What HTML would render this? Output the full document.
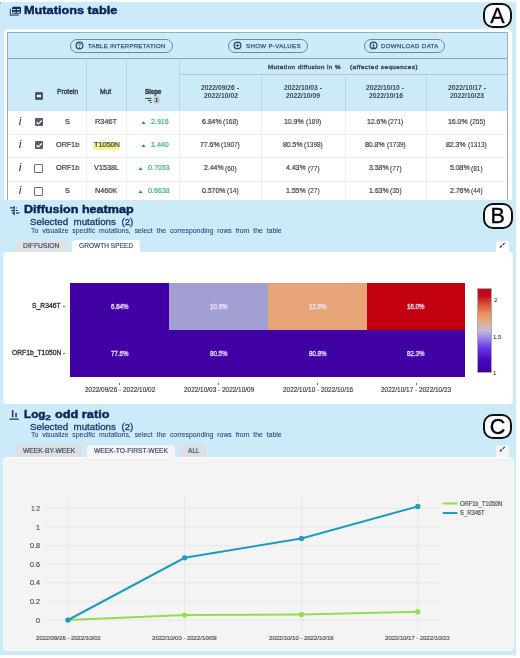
<!DOCTYPE html>
<html><head><meta charset="utf-8">
<style>
*{box-sizing:border-box;margin:0;padding:0}
html,body{width:520px;height:658px;overflow:hidden;background:#fff;font-family:"Liberation Sans",sans-serif;position:relative}
.a{position:absolute}
.x{position:absolute;white-space:nowrap;line-height:1;transform-origin:0 0;will-change:transform}
.lbl{position:absolute;border:2px solid #111;background:#fff;border-radius:10px;-webkit-text-stroke:0.35px #000;font-size:21.5px;color:#000;text-align:center;line-height:21.5px;padding-top:1.3px;font-family:"Liberation Sans",sans-serif;will-change:transform}
</style></head><body>
<div class="a" style="left:0px;top:2px;width:516px;height:198px;background:#cdeaf8;"></div>
<svg class="a" style="left:9px;top:6px" width="13" height="11" viewBox="0 0 13 11">
<rect x="3.1" y="0.8" width="8.9" height="7.0" rx="1.3" fill="#132b5b"/>
<rect x="3.9" y="3.0" width="2.7" height="1.1" fill="#d6ecf8"/><rect x="7.9" y="3.0" width="2.9" height="1.1" fill="#d6ecf8"/>
<rect x="3.9" y="5.8" width="2.7" height="1.1" fill="#d6ecf8"/><rect x="7.9" y="5.8" width="2.9" height="1.1" fill="#d6ecf8"/>
<path d="M1.4 2.7 V9.2 H9.8" fill="none" stroke="#36568a" stroke-width="1.2"/>
</svg>
<div class="x" style="left:24.44px;top:5.32px;font-size:11.2px;font-weight:bold;color:#0c2359;-webkit-text-stroke:0.45px #0c2359;transform:scaleX(1.1371);">Mutations table</div>
<div class="lbl" style="left:483px;top:2.8px;width:29px;height:25px">A</div>
<div class="a" style="left:4px;top:28.5px;width:507.5px;height:190px;background:#fff;border-radius:5px;"></div>
<div class="a" style="left:7.2px;top:31.7px;width:500.5px;height:180px;background:#cdeaf8;border:1px solid #98adbf;border-bottom:none;"></div>
<div class="a" style="left:8.2px;top:58px;width:499px;height:1px;background:#8ea5b8;"></div>
<div class="a" style="left:8.2px;top:110.5px;width:499px;height:100px;background:#fff;"></div>
<div class="a" style="left:179px;top:73.5px;width:328.5px;height:1px;background:#b3c9d8;"></div>
<div class="a" style="left:86px;top:59px;width:1px;height:51.5px;background:#bed4e2;"></div>
<div class="a" style="left:126px;top:59px;width:1px;height:51.5px;background:#bed4e2;"></div>
<div class="a" style="left:178.5px;top:59px;width:1px;height:51.5px;background:#bed4e2;"></div>
<div class="a" style="left:261px;top:74.5px;width:1px;height:36px;background:#bed4e2;"></div>
<div class="a" style="left:344.5px;top:74.5px;width:1px;height:36px;background:#bed4e2;"></div>
<div class="a" style="left:426px;top:74.5px;width:1px;height:36px;background:#bed4e2;"></div>
<div class="a" style="left:86px;top:110.5px;width:1px;height:90px;background:#eceef0;"></div>
<div class="a" style="left:126px;top:110.5px;width:1px;height:90px;background:#eceef0;"></div>
<div class="a" style="left:178.5px;top:110.5px;width:1px;height:90px;background:#eceef0;"></div>
<div class="a" style="left:261px;top:110.5px;width:1px;height:90px;background:#eceef0;"></div>
<div class="a" style="left:344.5px;top:110.5px;width:1px;height:90px;background:#eceef0;"></div>
<div class="a" style="left:426px;top:110.5px;width:1px;height:90px;background:#eceef0;"></div>
<div class="a" style="left:8.2px;top:133.7px;width:499px;height:1px;background:#eaecee;"></div>
<div class="a" style="left:8.2px;top:157.2px;width:499px;height:1px;background:#eaecee;"></div>
<div class="a" style="left:8.2px;top:180.6px;width:499px;height:1px;background:#eaecee;"></div>
<div class="a" style="left:70px;top:38.5px;width:102.5px;height:14px;border:1px solid #6f88a4;border-radius:7px;"></div>
<svg class="a" style="left:74.50px;top:40.8px" width="9" height="9" viewBox="0 0 9 9"><circle cx="4.5" cy="4.5" r="3.4" fill="none" stroke="#2f4669" stroke-width="1.2"/><path d="M3.4 3.7 Q3.4 2.6 4.5 2.6 Q5.6 2.6 5.6 3.5 Q5.6 4.2 4.5 4.6 V5.3" fill="none" stroke="#2f4669" stroke-width="0.85"/><circle cx="4.5" cy="6.4" r="0.5" fill="#2f4669"/></svg>
<div class="x" style="left:87.88px;top:42.74px;font-size:6.1px;color:#3a557e;-webkit-text-stroke:0.25px #3a557e;letter-spacing:0.236px;">TABLE INTERPRETATION</div>
<div class="a" style="left:228.3px;top:38.5px;width:79.30000000000001px;height:14px;border:1px solid #6f88a4;border-radius:7px;"></div>
<svg class="a" style="left:232.80px;top:40.8px" width="9" height="9" viewBox="0 0 9 9"><circle cx="4.5" cy="4.5" r="3.4" fill="none" stroke="#2f4669" stroke-width="1.2"/><path d="M2.6 4.5 H6.4 M4.5 2.6 V6.4" stroke="#2f4669" stroke-width="0.9"/></svg>
<div class="x" style="left:246.26px;top:42.74px;font-size:6.1px;color:#3a557e;-webkit-text-stroke:0.25px #3a557e;letter-spacing:0.348px;">SHOW P-VALUES</div>
<div class="a" style="left:364px;top:38.5px;width:81.39999999999998px;height:14px;border:1px solid #6f88a4;border-radius:7px;"></div>
<svg class="a" style="left:368.50px;top:40.8px" width="9" height="9" viewBox="0 0 9 9"><circle cx="4.5" cy="4.5" r="3.4" fill="none" stroke="#2f4669" stroke-width="1.2"/><path d="M4.5 2.5 V5.5 M3.3 4.4 L4.5 5.6 L5.7 4.4" fill="none" stroke="#2f4669" stroke-width="0.85"/><path d="M3.1 6.5 H5.9" stroke="#2f4669" stroke-width="0.7"/></svg>
<div class="x" style="left:381.41px;top:42.74px;font-size:6.1px;color:#3a557e;-webkit-text-stroke:0.25px #3a557e;letter-spacing:0.366px;">DOWNLOAD DATA</div>
<div class="x" style="left:268.40px;top:63.95px;font-size:6.2px;color:#3b4754;-webkit-text-stroke:0.40px #3b4754;letter-spacing:0.469px;">Mutation diffusion in %</div>
<div class="x" style="left:350.13px;top:63.95px;font-size:6.2px;color:#3b4754;-webkit-text-stroke:0.40px #3b4754;letter-spacing:0.516px;">(affected sequences)</div>
<div class="x" style="left:57.27px;top:88.70px;font-size:6.5px;color:#333d48;-webkit-text-stroke:0.35px #333d48;transform:scaleX(1.0249);">Protein</div>
<div class="x" style="left:100.47px;top:88.70px;font-size:6.5px;color:#333d48;-webkit-text-stroke:0.35px #333d48;transform:scaleX(1.0262);">Mut</div>
<div class="x" style="left:144.78px;top:88.58px;font-size:6.4px;font-weight:bold;color:#1f2328;-webkit-text-stroke:0.30px #1f2328;transform:scaleX(0.9399);">Slope</div>
<svg class="a" style="left:144px;top:97px" width="9" height="7" viewBox="0 0 9 7"><path d="M1.2 1.4 H7.5 M3.9 3.5 H7.5 M5.8 5.5 H7.5" stroke="#2e3338" stroke-width="0.95"/></svg>
<div class="a" style="left:153.1px;top:96.4px;width:7.4px;height:7.4px;border-radius:50%;background:#c4cdd5;"></div>
<div class="x" style="left:155.25px;top:97.59px;font-size:5.8px;font-weight:bold;color:#222;">1</div>
<div class="a" style="left:35px;top:91.6px;width:8.3px;height:8.6px;border-radius:1px;background:#505c68;"></div>
<div class="a" style="left:36.8px;top:95.4px;width:4.7px;height:1.2px;background:#fff;"></div>
<div class="x" style="left:201.05px;top:84.67px;font-size:6.3px;font-weight:bold;color:#3b4754;transform:scaleX(1.0720);">2022/09/26 -</div>
<div class="x" style="left:203.55px;top:93.07px;font-size:6.3px;font-weight:bold;color:#3b4754;transform:scaleX(1.0767);">2022/10/02</div>
<div class="x" style="left:283.80px;top:84.67px;font-size:6.3px;font-weight:bold;color:#3b4754;transform:scaleX(1.0720);">2022/10/03 -</div>
<div class="x" style="left:286.30px;top:93.07px;font-size:6.3px;font-weight:bold;color:#3b4754;transform:scaleX(1.0767);">2022/10/09</div>
<div class="x" style="left:366.30px;top:84.67px;font-size:6.3px;font-weight:bold;color:#3b4754;transform:scaleX(1.0720);">2022/10/10 -</div>
<div class="x" style="left:368.80px;top:93.07px;font-size:6.3px;font-weight:bold;color:#3b4754;transform:scaleX(1.0767);">2022/10/16</div>
<div class="x" style="left:447.55px;top:84.67px;font-size:6.3px;font-weight:bold;color:#3b4754;transform:scaleX(1.0720);">2022/10/17 -</div>
<div class="x" style="left:450.05px;top:93.07px;font-size:6.3px;font-weight:bold;color:#3b4754;transform:scaleX(1.0767);">2022/10/23</div>
<div class="x" style="left:18.90px;top:117.14px;font-size:10px;font-style:italic;font-family:"Liberation Serif", serif;color:#444;-webkit-text-stroke:0.15px #444;">i</div>
<div class="a" style="left:34.9px;top:117.8px;width:8.2px;height:8.2px;border-radius:1px;background:#565d64;"></div>
<svg class="a" style="left:34.9px;top:117.8px" width="8.2" height="8.2" viewBox="0 0 8.2 8.2"><path d="M1.6 4.2 L3.4 5.9 L6.7 2.5" fill="none" stroke="#fff" stroke-width="1.2"/></svg>
<div class="x" style="left:65.07px;top:118.14px;font-size:7.4px;color:#333;-webkit-text-stroke:0.20px #333;transform:scaleX(0.9800);">S</div>
<div class="x" style="left:95.20px;top:118.14px;font-size:7.4px;color:#333;-webkit-text-stroke:0.20px #333;transform:scaleX(0.9800);">R346T</div>
<svg class="a" style="left:140.7px;top:120.6px" width="5" height="3.5" viewBox="0 0 5 3.5"><path d="M0 3.5 L2.5 0.3 L5 3.5Z" fill="#1f9d55"/></svg>
<div class="x" style="left:150.75px;top:118.14px;font-size:7.4px;color:#33b068;-webkit-text-stroke:0.20px #33b068;transform:scaleX(0.9550);">2.916</div>
<div class="x" style="left:201.75px;top:118.14px;font-size:7.4px;color:#333;-webkit-text-stroke:0.20px #333;transform:scaleX(0.9300);">6.84%</div>
<div class="x" style="left:223.07px;top:119.20px;font-size:6.5px;color:#3c3c3c;-webkit-text-stroke:0.12px #3c3c3c;">(168)</div>
<div class="x" style="left:284.43px;top:118.14px;font-size:7.4px;color:#333;-webkit-text-stroke:0.20px #333;transform:scaleX(0.9300);">10.9%</div>
<div class="x" style="left:305.76px;top:119.20px;font-size:6.5px;color:#3c3c3c;-webkit-text-stroke:0.12px #3c3c3c;">(189)</div>
<div class="x" style="left:366.93px;top:118.14px;font-size:7.4px;color:#333;-webkit-text-stroke:0.20px #333;transform:scaleX(0.9300);">12.6%</div>
<div class="x" style="left:388.26px;top:119.20px;font-size:6.5px;color:#3c3c3c;-webkit-text-stroke:0.12px #3c3c3c;">(271)</div>
<div class="x" style="left:448.18px;top:118.14px;font-size:7.4px;color:#333;-webkit-text-stroke:0.20px #333;transform:scaleX(0.9300);">16.0%</div>
<div class="x" style="left:469.51px;top:119.20px;font-size:6.5px;color:#3c3c3c;-webkit-text-stroke:0.12px #3c3c3c;">(255)</div>
<div class="x" style="left:18.90px;top:140.24px;font-size:10px;font-style:italic;font-family:"Liberation Serif", serif;color:#444;-webkit-text-stroke:0.15px #444;">i</div>
<div class="a" style="left:34.9px;top:140.9px;width:8.2px;height:8.2px;border-radius:1px;background:#565d64;"></div>
<svg class="a" style="left:34.9px;top:140.9px" width="8.2" height="8.2" viewBox="0 0 8.2 8.2"><path d="M1.6 4.2 L3.4 5.9 L6.7 2.5" fill="none" stroke="#fff" stroke-width="1.2"/></svg>
<div class="x" style="left:55.80px;top:141.24px;font-size:7.4px;color:#333;-webkit-text-stroke:0.20px #333;transform:scaleX(0.9800);">ORF1b</div>
<div class="a" style="left:93px;top:141.5px;width:26.2px;height:8.8px;background:#f9f590;"></div>
<div class="x" style="left:93.59px;top:141.24px;font-size:7.4px;color:#333;-webkit-text-stroke:0.20px #333;transform:scaleX(0.9800);">T1050N</div>
<svg class="a" style="left:140.7px;top:143.7px" width="5" height="3.5" viewBox="0 0 5 3.5"><path d="M0 3.5 L2.5 0.3 L5 3.5Z" fill="#1f9d55"/></svg>
<div class="x" style="left:150.61px;top:141.24px;font-size:7.4px;color:#33b068;-webkit-text-stroke:0.20px #33b068;transform:scaleX(0.9550);">1.440</div>
<div class="x" style="left:199.94px;top:141.24px;font-size:7.4px;color:#333;-webkit-text-stroke:0.20px #333;transform:scaleX(0.9300);">77.6%</div>
<div class="x" style="left:221.27px;top:142.30px;font-size:6.5px;color:#3c3c3c;-webkit-text-stroke:0.12px #3c3c3c;">(1907)</div>
<div class="x" style="left:282.73px;top:141.24px;font-size:7.4px;color:#333;-webkit-text-stroke:0.20px #333;transform:scaleX(0.9300);">80.5%</div>
<div class="x" style="left:304.05px;top:142.30px;font-size:6.5px;color:#3c3c3c;-webkit-text-stroke:0.12px #3c3c3c;">(1398)</div>
<div class="x" style="left:365.23px;top:141.24px;font-size:7.4px;color:#333;-webkit-text-stroke:0.20px #333;transform:scaleX(0.9300);">80.8%</div>
<div class="x" style="left:386.55px;top:142.30px;font-size:6.5px;color:#3c3c3c;-webkit-text-stroke:0.12px #3c3c3c;">(1739)</div>
<div class="x" style="left:446.48px;top:141.24px;font-size:7.4px;color:#333;-webkit-text-stroke:0.20px #333;transform:scaleX(0.9300);">82.3%</div>
<div class="x" style="left:467.80px;top:142.30px;font-size:6.5px;color:#3c3c3c;-webkit-text-stroke:0.12px #3c3c3c;">(1313)</div>
<div class="x" style="left:18.90px;top:163.44px;font-size:10px;font-style:italic;font-family:"Liberation Serif", serif;color:#444;-webkit-text-stroke:0.15px #444;">i</div>
<div class="a" style="left:34.4px;top:164.2px;width:8.6px;height:8.6px;border-radius:1px;border:1px solid #6a6f74;background:#fff"></div>
<div class="x" style="left:55.80px;top:164.44px;font-size:7.4px;color:#333;-webkit-text-stroke:0.20px #333;transform:scaleX(0.9800);">ORF1b</div>
<div class="x" style="left:93.89px;top:164.44px;font-size:7.4px;color:#333;-webkit-text-stroke:0.20px #333;transform:scaleX(0.9800);">V1538L</div>
<svg class="a" style="left:138.3px;top:166.9px" width="5" height="3.5" viewBox="0 0 5 3.5"><path d="M0 3.5 L2.5 0.3 L5 3.5Z" fill="#1f9d55"/></svg>
<div class="x" style="left:148.49px;top:164.44px;font-size:7.4px;color:#33b068;-webkit-text-stroke:0.20px #33b068;transform:scaleX(0.9550);">0.7053</div>
<div class="x" style="left:203.56px;top:164.44px;font-size:7.4px;color:#333;-webkit-text-stroke:0.20px #333;transform:scaleX(0.9300);">2.44%</div>
<div class="x" style="left:224.88px;top:165.50px;font-size:6.5px;color:#3c3c3c;-webkit-text-stroke:0.12px #3c3c3c;">(60)</div>
<div class="x" style="left:286.41px;top:164.44px;font-size:7.4px;color:#333;-webkit-text-stroke:0.20px #333;transform:scaleX(0.9300);">4.43%</div>
<div class="x" style="left:307.74px;top:165.50px;font-size:6.5px;color:#3c3c3c;-webkit-text-stroke:0.12px #3c3c3c;">(77)</div>
<div class="x" style="left:368.88px;top:164.44px;font-size:7.4px;color:#333;-webkit-text-stroke:0.20px #333;transform:scaleX(0.9300);">3.58%</div>
<div class="x" style="left:390.20px;top:165.50px;font-size:6.5px;color:#3c3c3c;-webkit-text-stroke:0.12px #3c3c3c;">(77)</div>
<div class="x" style="left:450.09px;top:164.44px;font-size:7.4px;color:#333;-webkit-text-stroke:0.20px #333;transform:scaleX(0.9300);">5.08%</div>
<div class="x" style="left:471.42px;top:165.50px;font-size:6.5px;color:#3c3c3c;-webkit-text-stroke:0.12px #3c3c3c;">(81)</div>
<div class="x" style="left:18.90px;top:186.34px;font-size:10px;font-style:italic;font-family:"Liberation Serif", serif;color:#444;-webkit-text-stroke:0.15px #444;">i</div>
<div class="a" style="left:34.4px;top:187.1px;width:8.6px;height:8.6px;border-radius:1px;border:1px solid #6a6f74;background:#fff"></div>
<div class="x" style="left:65.07px;top:187.34px;font-size:7.4px;color:#333;-webkit-text-stroke:0.20px #333;transform:scaleX(0.9800);">S</div>
<div class="x" style="left:94.95px;top:187.34px;font-size:7.4px;color:#333;-webkit-text-stroke:0.20px #333;transform:scaleX(0.9800);">N460K</div>
<svg class="a" style="left:138.3px;top:189.8px" width="5" height="3.5" viewBox="0 0 5 3.5"><path d="M0 3.5 L2.5 0.3 L5 3.5Z" fill="#1f9d55"/></svg>
<div class="x" style="left:148.49px;top:187.34px;font-size:7.4px;color:#33b068;-webkit-text-stroke:0.20px #33b068;transform:scaleX(0.9550);">0.6638</div>
<div class="x" style="left:201.71px;top:187.34px;font-size:7.4px;color:#333;-webkit-text-stroke:0.20px #333;transform:scaleX(0.9300);">0.570%</div>
<div class="x" style="left:226.86px;top:188.40px;font-size:6.5px;color:#3c3c3c;-webkit-text-stroke:0.12px #3c3c3c;">(14)</div>
<div class="x" style="left:286.24px;top:187.34px;font-size:7.4px;color:#333;-webkit-text-stroke:0.20px #333;transform:scaleX(0.9300);">1.55%</div>
<div class="x" style="left:307.56px;top:188.40px;font-size:6.5px;color:#3c3c3c;-webkit-text-stroke:0.12px #3c3c3c;">(27)</div>
<div class="x" style="left:368.74px;top:187.34px;font-size:7.4px;color:#333;-webkit-text-stroke:0.20px #333;transform:scaleX(0.9300);">1.63%</div>
<div class="x" style="left:390.06px;top:188.40px;font-size:6.5px;color:#3c3c3c;-webkit-text-stroke:0.12px #3c3c3c;">(35)</div>
<div class="x" style="left:450.06px;top:187.34px;font-size:7.4px;color:#333;-webkit-text-stroke:0.20px #333;transform:scaleX(0.9300);">2.76%</div>
<div class="x" style="left:471.38px;top:188.40px;font-size:6.5px;color:#3c3c3c;-webkit-text-stroke:0.12px #3c3c3c;">(44)</div>
<div class="a" style="left:0px;top:2.6px;width:1.2px;height:1.6px;background:#7d9a9c;"></div>
<div class="a" style="left:0px;top:200px;width:516px;height:207px;background:#cdeaf8;"></div>
<svg class="a" style="left:9px;top:205px" width="12" height="11" viewBox="0 0 12 11">
<g stroke="#1f3a72" stroke-width="1.2" fill="none">
<line x1="5.2" y1="1" x2="5.2" y2="10.3"/>
<line x1="0.9" y1="2.8" x2="5.2" y2="2.8"/><line x1="2.2" y1="5.5" x2="5.2" y2="5.5"/><line x1="2.9" y1="8.0" x2="5.2" y2="8.0"/>
<line x1="7.1" y1="2.8" x2="7.8" y2="2.8"/><line x1="7.0" y1="5.5" x2="8.8" y2="5.5"/><line x1="7.0" y1="8.0" x2="10.5" y2="8.0"/>
</g></svg>
<div class="x" style="left:24.45px;top:204.30px;font-size:11.1px;font-weight:bold;color:#0c2359;-webkit-text-stroke:0.45px #0c2359;transform:scaleX(1.1327);">Diffusion heatmap</div>
<div class="lbl" style="left:482.5px;top:203px;width:29.5px;height:25.6px">B</div>
<div class="x" style="left:30.41px;top:217.14px;font-size:9.4px;color:#1e3a70;-webkit-text-stroke:0.30px #1e3a70;word-spacing:2.60px;transform:scaleX(1.0440);">Selected mutations (2)</div>
<div class="x" style="left:30.66px;top:227.61px;font-size:6.6px;color:#22407a;-webkit-text-stroke:0.05px #22407a;word-spacing:1.90px;transform:scaleX(1.0409);">To visualize specific mutations, select the corresponding rows from the table</div>
<div class="a" style="left:16.2px;top:240.4px;width:50.8px;height:14px;background:#e2e2e4;border-radius:3px 3px 0 0"></div>
<div class="x" style="left:23.26px;top:243.21px;font-size:6.6px;color:#34446a;-webkit-text-stroke:0.15px #34446a;transform:scaleX(1.0243);">DIFFUSION</div>
<div class="a" style="left:72px;top:239.8px;width:68.4px;height:15px;background:#fff;border-radius:3px 3px 0 0"></div>
<div class="x" style="left:78.87px;top:243.21px;font-size:6.6px;color:#34446a;-webkit-text-stroke:0.15px #34446a;transform:scaleX(0.9970);">GROWTH SPEED</div>
<div class="a" style="left:496px;top:240.5px;width:12.6px;height:14px;background:#fff;border-radius:3px 3px 0 0"></div>
<svg class="a" style="left:498px;top:241px" width="9" height="9" viewBox="0 0 9 9"><path d="M1.9 6.7 L3.1 5.5 M3.4 5.8 L3.4 4.9 L2.5 4.9" fill="none" stroke="#1d2f55" stroke-width="1.1"/><path d="M6.7 1.9 L5.5 3.1 M5.2 2.8 L5.2 3.5 L5.9 3.5" fill="none" stroke="#1d2f55" stroke-width="1.1"/></svg>
<div class="a" style="left:2.7px;top:252.4px;width:510.8px;height:152px;background:#fff;border-radius:4px;"></div>
<div class="a" style="left:70.2px;top:283.2px;width:99.10000000000001px;height:47.10000000000002px;background:#4000a3;"></div>
<div class="a" style="left:169.3px;top:283.2px;width:99.0px;height:47.10000000000002px;background:#a29fd3;"></div>
<div class="a" style="left:268.3px;top:283.2px;width:99.0px;height:47.10000000000002px;background:#e7a477;"></div>
<div class="a" style="left:367.3px;top:283.2px;width:97.30000000000001px;height:47.10000000000002px;background:#c3000f;"></div>
<div class="a" style="left:70.2px;top:330.3px;width:99.10000000000001px;height:46.5px;background:#4000a3;"></div>
<div class="a" style="left:169.3px;top:330.3px;width:99.0px;height:46.5px;background:#4000a3;"></div>
<div class="a" style="left:268.3px;top:330.3px;width:99.0px;height:46.5px;background:#4000a3;"></div>
<div class="a" style="left:367.3px;top:330.3px;width:97.30000000000001px;height:46.5px;background:#4000a3;"></div>
<div class="x" style="left:111.02px;top:303.72px;font-size:6.3px;color:#ebe4ff;-webkit-text-stroke:0.30px #ebe4ff;transform:scaleX(0.9700);">6.84%</div>
<div class="x" style="left:210.01px;top:303.72px;font-size:6.3px;color:#ebe4ff;-webkit-text-stroke:0.30px #ebe4ff;transform:scaleX(0.9700);">10.9%</div>
<div class="x" style="left:309.01px;top:303.72px;font-size:6.3px;color:#ebe4ff;-webkit-text-stroke:0.30px #ebe4ff;transform:scaleX(0.9700);">12.6%</div>
<div class="x" style="left:407.16px;top:303.72px;font-size:6.3px;color:#ebe4ff;-webkit-text-stroke:0.30px #ebe4ff;transform:scaleX(0.9700);">16.0%</div>
<div class="x" style="left:111.02px;top:350.52px;font-size:6.3px;color:#ebe4ff;-webkit-text-stroke:0.30px #ebe4ff;transform:scaleX(0.9700);">77.6%</div>
<div class="x" style="left:210.10px;top:350.52px;font-size:6.3px;color:#ebe4ff;-webkit-text-stroke:0.30px #ebe4ff;transform:scaleX(0.9700);">80.5%</div>
<div class="x" style="left:309.10px;top:350.52px;font-size:6.3px;color:#ebe4ff;-webkit-text-stroke:0.30px #ebe4ff;transform:scaleX(0.9700);">80.8%</div>
<div class="x" style="left:407.25px;top:350.52px;font-size:6.3px;color:#ebe4ff;-webkit-text-stroke:0.30px #ebe4ff;transform:scaleX(0.9700);">82.3%</div>
<div class="x" style="left:32.03px;top:303.21px;font-size:6.6px;color:#333;-webkit-text-stroke:0.30px #333;transform:scaleX(1.0262);">S_R346T</div>
<div class="x" style="left:12.23px;top:350.41px;font-size:6.6px;color:#333;-webkit-text-stroke:0.30px #333;transform:scaleX(1.0224);">ORF1b_T1050N</div>
<div class="a" style="left:62.8px;top:305.7px;width:2.2px;height:0.9px;background:#666;"></div>
<div class="a" style="left:63.1px;top:353.2px;width:2px;height:0.9px;background:#666;"></div>
<div class="a" style="left:119.35px;top:382.6px;width:0.8px;height:2px;background:#666;"></div>
<div class="x" style="left:84.58px;top:387.08px;font-size:6.4px;color:#3a3a3a;-webkit-text-stroke:0.15px #3a3a3a;transform:scaleX(1.0082);">2022/09/26 - 2022/10/02</div>
<div class="a" style="left:218.4px;top:382.6px;width:0.8px;height:2px;background:#666;"></div>
<div class="x" style="left:183.63px;top:387.08px;font-size:6.4px;color:#3a3a3a;-webkit-text-stroke:0.15px #3a3a3a;transform:scaleX(1.0082);">2022/10/03 - 2022/10/09</div>
<div class="a" style="left:317.40000000000003px;top:382.6px;width:0.8px;height:2px;background:#666;"></div>
<div class="x" style="left:282.63px;top:387.08px;font-size:6.4px;color:#3a3a3a;-webkit-text-stroke:0.15px #3a3a3a;transform:scaleX(1.0072);">2022/10/10 - 2022/10/16</div>
<div class="a" style="left:415.55000000000007px;top:382.6px;width:0.8px;height:2px;background:#666;"></div>
<div class="x" style="left:380.78px;top:387.08px;font-size:6.4px;color:#3a3a3a;-webkit-text-stroke:0.15px #3a3a3a;transform:scaleX(1.0072);">2022/10/17 - 2022/10/23</div>
<div class="a" style="left:477px;top:287.8px;width:15px;height:84.8px;border:0.5px solid #aaa;background:linear-gradient(to top, rgb(58,0,158) 0%, rgb(75,8,190) 15%, rgb(105,60,235) 30%, rgb(150,130,235) 40%, rgb(195,190,210) 50%, rgb(222,175,140) 60%, rgb(234,145,90) 70%, rgb(215,80,60) 82%, rgb(195,10,30) 92%, rgb(190,0,22) 100%)"></div>
<div class="x" style="left:493.50px;top:296.92px;font-size:6px;color:#444;-webkit-text-stroke:0.10px #444;">2</div>
<div class="x" style="left:493.38px;top:333.82px;font-size:6px;color:#444;-webkit-text-stroke:0.10px #444;">1.5</div>
<div class="x" style="left:493.38px;top:369.72px;font-size:6px;color:#444;-webkit-text-stroke:0.10px #444;">1</div>
<div class="a" style="left:0px;top:407px;width:516px;height:247.6px;background:#cdeaf8;"></div>
<svg class="a" style="left:9px;top:409px" width="11" height="12" viewBox="0 0 11 12">
<rect x="2.9" y="1" width="1.5" height="7.5" rx="0.7" fill="#1e3566"/>
<rect x="6.3" y="3.8" width="1.5" height="4.7" rx="0.7" fill="#1e3566"/>
<rect x="0.5" y="9.6" width="9.3" height="1.2" rx="0.5" fill="#1e3566"/>
</svg>
<div class="x" style="left:23.90px;top:408.50px;font-size:11.1px;font-weight:bold;color:#0c2359;-webkit-text-stroke:0.45px #0c2359;transform:scaleX(1.0527);">Log</div>
<div class="x" style="left:45.38px;top:413.85px;font-size:7.5px;font-weight:bold;color:#0c2359;-webkit-text-stroke:0.25px #0c2359;transform:scaleX(1.4422);">2</div>
<div class="x" style="left:55.32px;top:408.50px;font-size:11.1px;font-weight:bold;color:#0c2359;-webkit-text-stroke:0.45px #0c2359;transform:scaleX(1.1474);">odd ratio</div>
<div class="lbl" style="left:483.2px;top:413.8px;width:29px;height:25px">C</div>
<div class="x" style="left:30.41px;top:421.74px;font-size:9.4px;color:#1e3a70;-webkit-text-stroke:0.30px #1e3a70;word-spacing:2.60px;transform:scaleX(1.0440);">Selected mutations (2)</div>
<div class="x" style="left:30.66px;top:432.01px;font-size:6.6px;color:#22407a;-webkit-text-stroke:0.05px #22407a;word-spacing:1.90px;transform:scaleX(1.0409);">To visualize specific mutations, select the corresponding rows from the table</div>
<div class="a" style="left:15.9px;top:445.2px;width:65.6px;height:12px;background:#dedfe1;border-radius:3px 3px 0 0"></div>
<div class="x" style="left:22.80px;top:447.61px;font-size:6.6px;color:#34446a;-webkit-text-stroke:0.15px #34446a;transform:scaleX(1.0152);">WEEK-BY-WEEK</div>
<div class="a" style="left:86.5px;top:444.5px;width:88.3px;height:13px;background:#f4f4f4;border-radius:3px 3px 0 0"></div>
<div class="x" style="left:94.30px;top:447.61px;font-size:6.6px;color:#34446a;-webkit-text-stroke:0.15px #34446a;transform:scaleX(1.0114);">WEEK-TO-FIRST-WEEK</div>
<div class="a" style="left:180px;top:445.2px;width:26px;height:12px;background:#dedfe1;border-radius:3px 3px 0 0"></div>
<div class="x" style="left:187.80px;top:447.61px;font-size:6.6px;color:#34446a;-webkit-text-stroke:0.15px #34446a;transform:scaleX(0.9680);">ALL</div>
<div class="a" style="left:496px;top:444.5px;width:12.6px;height:13px;background:#f4f4f4;border-radius:3px 3px 0 0"></div>
<svg class="a" style="left:497.8px;top:445.3px" width="9" height="9" viewBox="0 0 9 9"><path d="M1.9 6.7 L3.1 5.5 M3.4 5.8 L3.4 4.9 L2.5 4.9" fill="none" stroke="#1d2f55" stroke-width="1.1"/><path d="M6.7 1.9 L5.5 3.1 M5.2 2.8 L5.2 3.5 L5.9 3.5" fill="none" stroke="#1d2f55" stroke-width="1.1"/></svg>
<div class="a" style="left:2.9px;top:456.6px;width:511.4px;height:194.4px;background:#f4f4f4;border-radius:4px;border:1px solid #fbfbfb;"></div>
<svg class="a" style="left:0;top:0" width="520" height="658" viewBox="0 0 520 658"><line x1="44.5" y1="620.0" x2="439.7" y2="620.0" stroke="#e4e4e4" stroke-width="0.8"/><line x1="44.5" y1="601.4" x2="439.7" y2="601.4" stroke="#e4e4e4" stroke-width="0.8"/><line x1="44.5" y1="582.8" x2="439.7" y2="582.8" stroke="#e4e4e4" stroke-width="0.8"/><line x1="44.5" y1="564.2" x2="439.7" y2="564.2" stroke="#e4e4e4" stroke-width="0.8"/><line x1="44.5" y1="545.6" x2="439.7" y2="545.6" stroke="#e4e4e4" stroke-width="0.8"/><line x1="44.5" y1="527.0" x2="439.7" y2="527.0" stroke="#e4e4e4" stroke-width="0.8"/><line x1="44.5" y1="508.4" x2="439.7" y2="508.4" stroke="#e4e4e4" stroke-width="0.8"/><line x1="68" y1="496" x2="68" y2="629" stroke="#e4e4e4" stroke-width="0.8"/><line x1="184.6" y1="496" x2="184.6" y2="629" stroke="#e4e4e4" stroke-width="0.8"/><line x1="301.5" y1="496" x2="301.5" y2="629" stroke="#e4e4e4" stroke-width="0.8"/><line x1="417.8" y1="496" x2="417.8" y2="629" stroke="#e4e4e4" stroke-width="0.8"/><polyline points="68,620 184.6,615 301.5,614.6 417.8,611.8" fill="none" stroke="#8ee04a" stroke-width="2"/><circle cx="68" cy="620" r="2.6" fill="#8ee04a"/><circle cx="184.6" cy="615" r="2.6" fill="#8ee04a"/><circle cx="301.5" cy="614.6" r="2.6" fill="#8ee04a"/><circle cx="417.8" cy="611.8" r="2.6" fill="#8ee04a"/><polyline points="68,620 184.6,557.8 301.5,538.4 417.8,506.4" fill="none" stroke="#1e9bbf" stroke-width="2"/><circle cx="68" cy="620" r="2.6" fill="#1e9bbf"/><circle cx="184.6" cy="557.8" r="2.6" fill="#1e9bbf"/><circle cx="301.5" cy="538.4" r="2.6" fill="#1e9bbf"/><circle cx="417.8" cy="506.4" r="2.6" fill="#1e9bbf"/><line x1="442.7" y1="503.5" x2="457.3" y2="503.5" stroke="#8ee04a" stroke-width="2"/><line x1="442.7" y1="513" x2="457.3" y2="513" stroke="#1e9bbf" stroke-width="2"/></svg>
<div class="x" style="left:36.06px;top:616.51px;font-size:7.2px;color:#444;-webkit-text-stroke:0.12px #444;">0</div>
<div class="x" style="left:30.12px;top:597.91px;font-size:7.2px;color:#444;-webkit-text-stroke:0.12px #444;">0.2</div>
<div class="x" style="left:29.98px;top:579.31px;font-size:7.2px;color:#444;-webkit-text-stroke:0.12px #444;">0.4</div>
<div class="x" style="left:30.05px;top:560.71px;font-size:7.2px;color:#444;-webkit-text-stroke:0.12px #444;">0.6</div>
<div class="x" style="left:30.05px;top:542.11px;font-size:7.2px;color:#444;-webkit-text-stroke:0.12px #444;">0.8</div>
<div class="x" style="left:36.13px;top:523.51px;font-size:7.2px;color:#444;-webkit-text-stroke:0.12px #444;">1</div>
<div class="x" style="left:31.04px;top:504.91px;font-size:7.2px;color:#444;-webkit-text-stroke:0.12px #444;transform:scaleX(0.9049);">1.2</div>
<div class="x" style="left:35.60px;top:635.45px;font-size:6.2px;color:#444;-webkit-text-stroke:0.15px #444;transform:scaleX(0.9586);">2022/09/26 - 2022/10/02</div>
<div class="x" style="left:152.20px;top:635.45px;font-size:6.2px;color:#444;-webkit-text-stroke:0.15px #444;transform:scaleX(0.9586);">2022/10/03 - 2022/10/09</div>
<div class="x" style="left:269.10px;top:635.45px;font-size:6.2px;color:#444;-webkit-text-stroke:0.15px #444;transform:scaleX(0.9577);">2022/10/10 - 2022/10/16</div>
<div class="x" style="left:385.40px;top:635.45px;font-size:6.2px;color:#444;-webkit-text-stroke:0.15px #444;transform:scaleX(0.9577);">2022/10/17 - 2022/10/23</div>
<div class="x" style="left:459.77px;top:500.67px;font-size:6.3px;color:#444;-webkit-text-stroke:0.15px #444;transform:scaleX(0.9140);">ORF1b_T1050N</div>
<div class="x" style="left:459.77px;top:510.17px;font-size:6.3px;color:#444;-webkit-text-stroke:0.15px #444;transform:scaleX(0.9264);">S_R346T</div>
</body></html>
